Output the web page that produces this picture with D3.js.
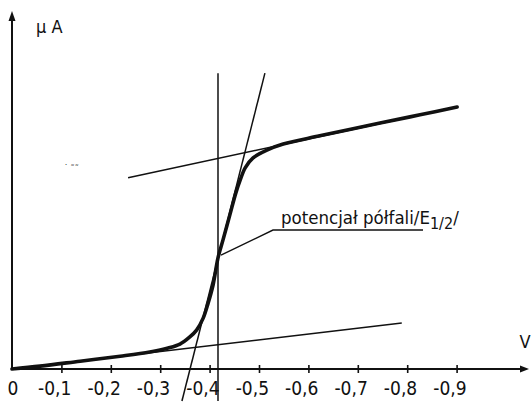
<!DOCTYPE html>
<html>
<head>
<meta charset="utf-8">
<script src="https://cdn.jsdelivr.net/npm/d3@7"></script>
<style>
  body { margin: 0; background: #fff; }
  svg { display: block; }
  text { font-family: "Liberation Sans Narrow", "DejaVu Sans Condensed", "Liberation Sans", sans-serif; fill: #111; }
</style>
</head>
<body>
<div id="chart"></div>
<script>
var width = 531;
var height = 403;

// polarogram: potential (V) vs current (arbitrary µA units)
var potential = [0, -0.057, -0.138, -0.219, -0.279, -0.316, -0.340, -0.360, -0.374, -0.387,
                 -0.397, -0.407, -0.417, -0.427, -0.441, -0.453, -0.462, -0.472, -0.488,
                 -0.516, -0.549, -0.623, -0.745, -0.826, -0.901];
var current = [0, 0.08, 0.22, 0.36, 0.48, 0.59, 0.70, 0.90, 1.10, 1.43,
               1.85, 2.36, 3.12, 3.62, 4.33, 4.94, 5.31, 5.65, 5.93,
               6.15, 6.32, 6.55, 6.91, 7.14, 7.36];

// tangent lines [V1, I1, V2, I2]
var lowerTangent = [0, 0, -0.789, 1.29];
var upperTangent = [-0.235, 5.37, -0.901, 7.36];
var steepTangent = [-0.512, 8.31, -0.344, -0.90];
var halfWave = [-0.417, 8.31, -0.417, -0.90];

var tickValues = [0, -0.1, -0.2, -0.3, -0.4, -0.5, -0.6, -0.7, -0.8, -0.9];
var tickLabels = ["0", "-0,1", "-0,2", "-0,3", "-0,4", "-0,5", "-0,6", "-0,7", "-0,8", "-0,9"];
var halfWaveCurrent = 3.2;

var x = d3.scaleLinear().domain([0, -1]).range([12, 506]);
var y = d3.scaleLinear().domain([0, 10]).range([369, 13]);

var svg = d3.select("#chart")
            .append("svg")
            .attr("width", width)
            .attr("height", height);

// axes
var xAxis = d3.axisBottom(x)
    .tickValues(tickValues.slice(1))
    .tickSize(4)
    .tickFormat("");

var xg = svg.append("g")
    .attr("transform", "translate(0," + y(0) + ")")
    .call(xAxis);
xg.select(".domain").remove();
xg.selectAll(".tick line")
    .attr("y1", -4)
    .attr("y2", 4)
    .attr("stroke", "#111")
    .attr("stroke-width", 1.6);

svg.append("line")
    .attr("x1", x(0)).attr("y1", y(0))
    .attr("x2", 522).attr("y2", y(0))
    .attr("stroke", "#111").attr("stroke-width", 2);
svg.append("path")
    .attr("d", "M529," + y(0) + "l-9,-3.5l0,7z")
    .attr("fill", "#111");

svg.append("line")
    .attr("x1", x(0)).attr("y1", y(0))
    .attr("x2", x(0)).attr("y2", 18)
    .attr("stroke", "#111").attr("stroke-width", 2);
svg.append("path")
    .attr("d", "M" + x(0) + ",11l-3.5,10l7,0z")
    .attr("fill", "#111");

// tick labels
svg.selectAll(".tlabel")
    .data(tickValues)
    .enter()
    .append("text")
    .attr("class", "tlabel")
    .attr("x", function(d, i){ return i == 0 ? x(d) + 1 : x(d) + 10; })
    .attr("y", 395)
    .attr("text-anchor", function(d, i){ return i == 0 ? "middle" : "end"; })
    .attr("font-size", 19)
    .text(function(d, i){ return tickLabels[i]; });

svg.append("text")
    .attr("x", 36).attr("y", 33)
    .attr("font-size", 18)
    .text("\u03BC A");

svg.append("text")
    .attr("x", 525).attr("y", 348)
    .attr("text-anchor", "middle")
    .attr("font-size", 18)
    .text("V");

// construction lines
var tangents = [lowerTangent, upperTangent, steepTangent, halfWave];
svg.selectAll(".tangent")
    .data(tangents)
    .enter()
    .append("line")
    .attr("class", "tangent")
    .attr("x1", function(d){ return x(d[0]); })
    .attr("y1", function(d){ return y(d[1]); })
    .attr("x2", function(d){ return x(d[2]); })
    .attr("y2", function(d){ return y(d[3]); })
    .attr("stroke", "#111")
    .attr("stroke-width", 1.5);

// the wave
var pts = potential.map(function(v, i){ return [v, current[i]]; });
var line = d3.line()
    .x(function(d){ return x(d[0]); })
    .y(function(d){ return y(d[1]); })
    .curve(d3.curveCatmullRom.alpha(0.5));

svg.append("path")
    .datum(pts)
    .attr("d", line)
    .attr("fill", "none")
    .attr("stroke", "#111")
    .attr("stroke-width", 3.6)
    .attr("stroke-linecap", "round");

// annotation
var ax = x(halfWave[0]) + 3, ay = y(halfWaveCurrent);
svg.append("polyline")
    .attr("points", [[ax, ay], [273, 230], [423, 230]].join(" "))
    .attr("fill", "none")
    .attr("stroke", "#111")
    .attr("stroke-width", 1.4);

var note = svg.append("text")
    .attr("x", 281).attr("y", 224)
    .attr("font-size", 18.5);
note.append("tspan").text("potencja\u0142 p\u00F3\u0142fali/E");
note.append("tspan").attr("dy", 5).attr("font-size", 16).text("1/2");
note.append("tspan").attr("dy", -5).text("/");

// scan specks
svg.append("text")
    .attr("x", 64).attr("y", 171)
    .attr("font-size", 9)
    .attr("fill", "#333")
    .text("\u02D9 \u02DC\u02DC");
</script>
</body>
</html>
